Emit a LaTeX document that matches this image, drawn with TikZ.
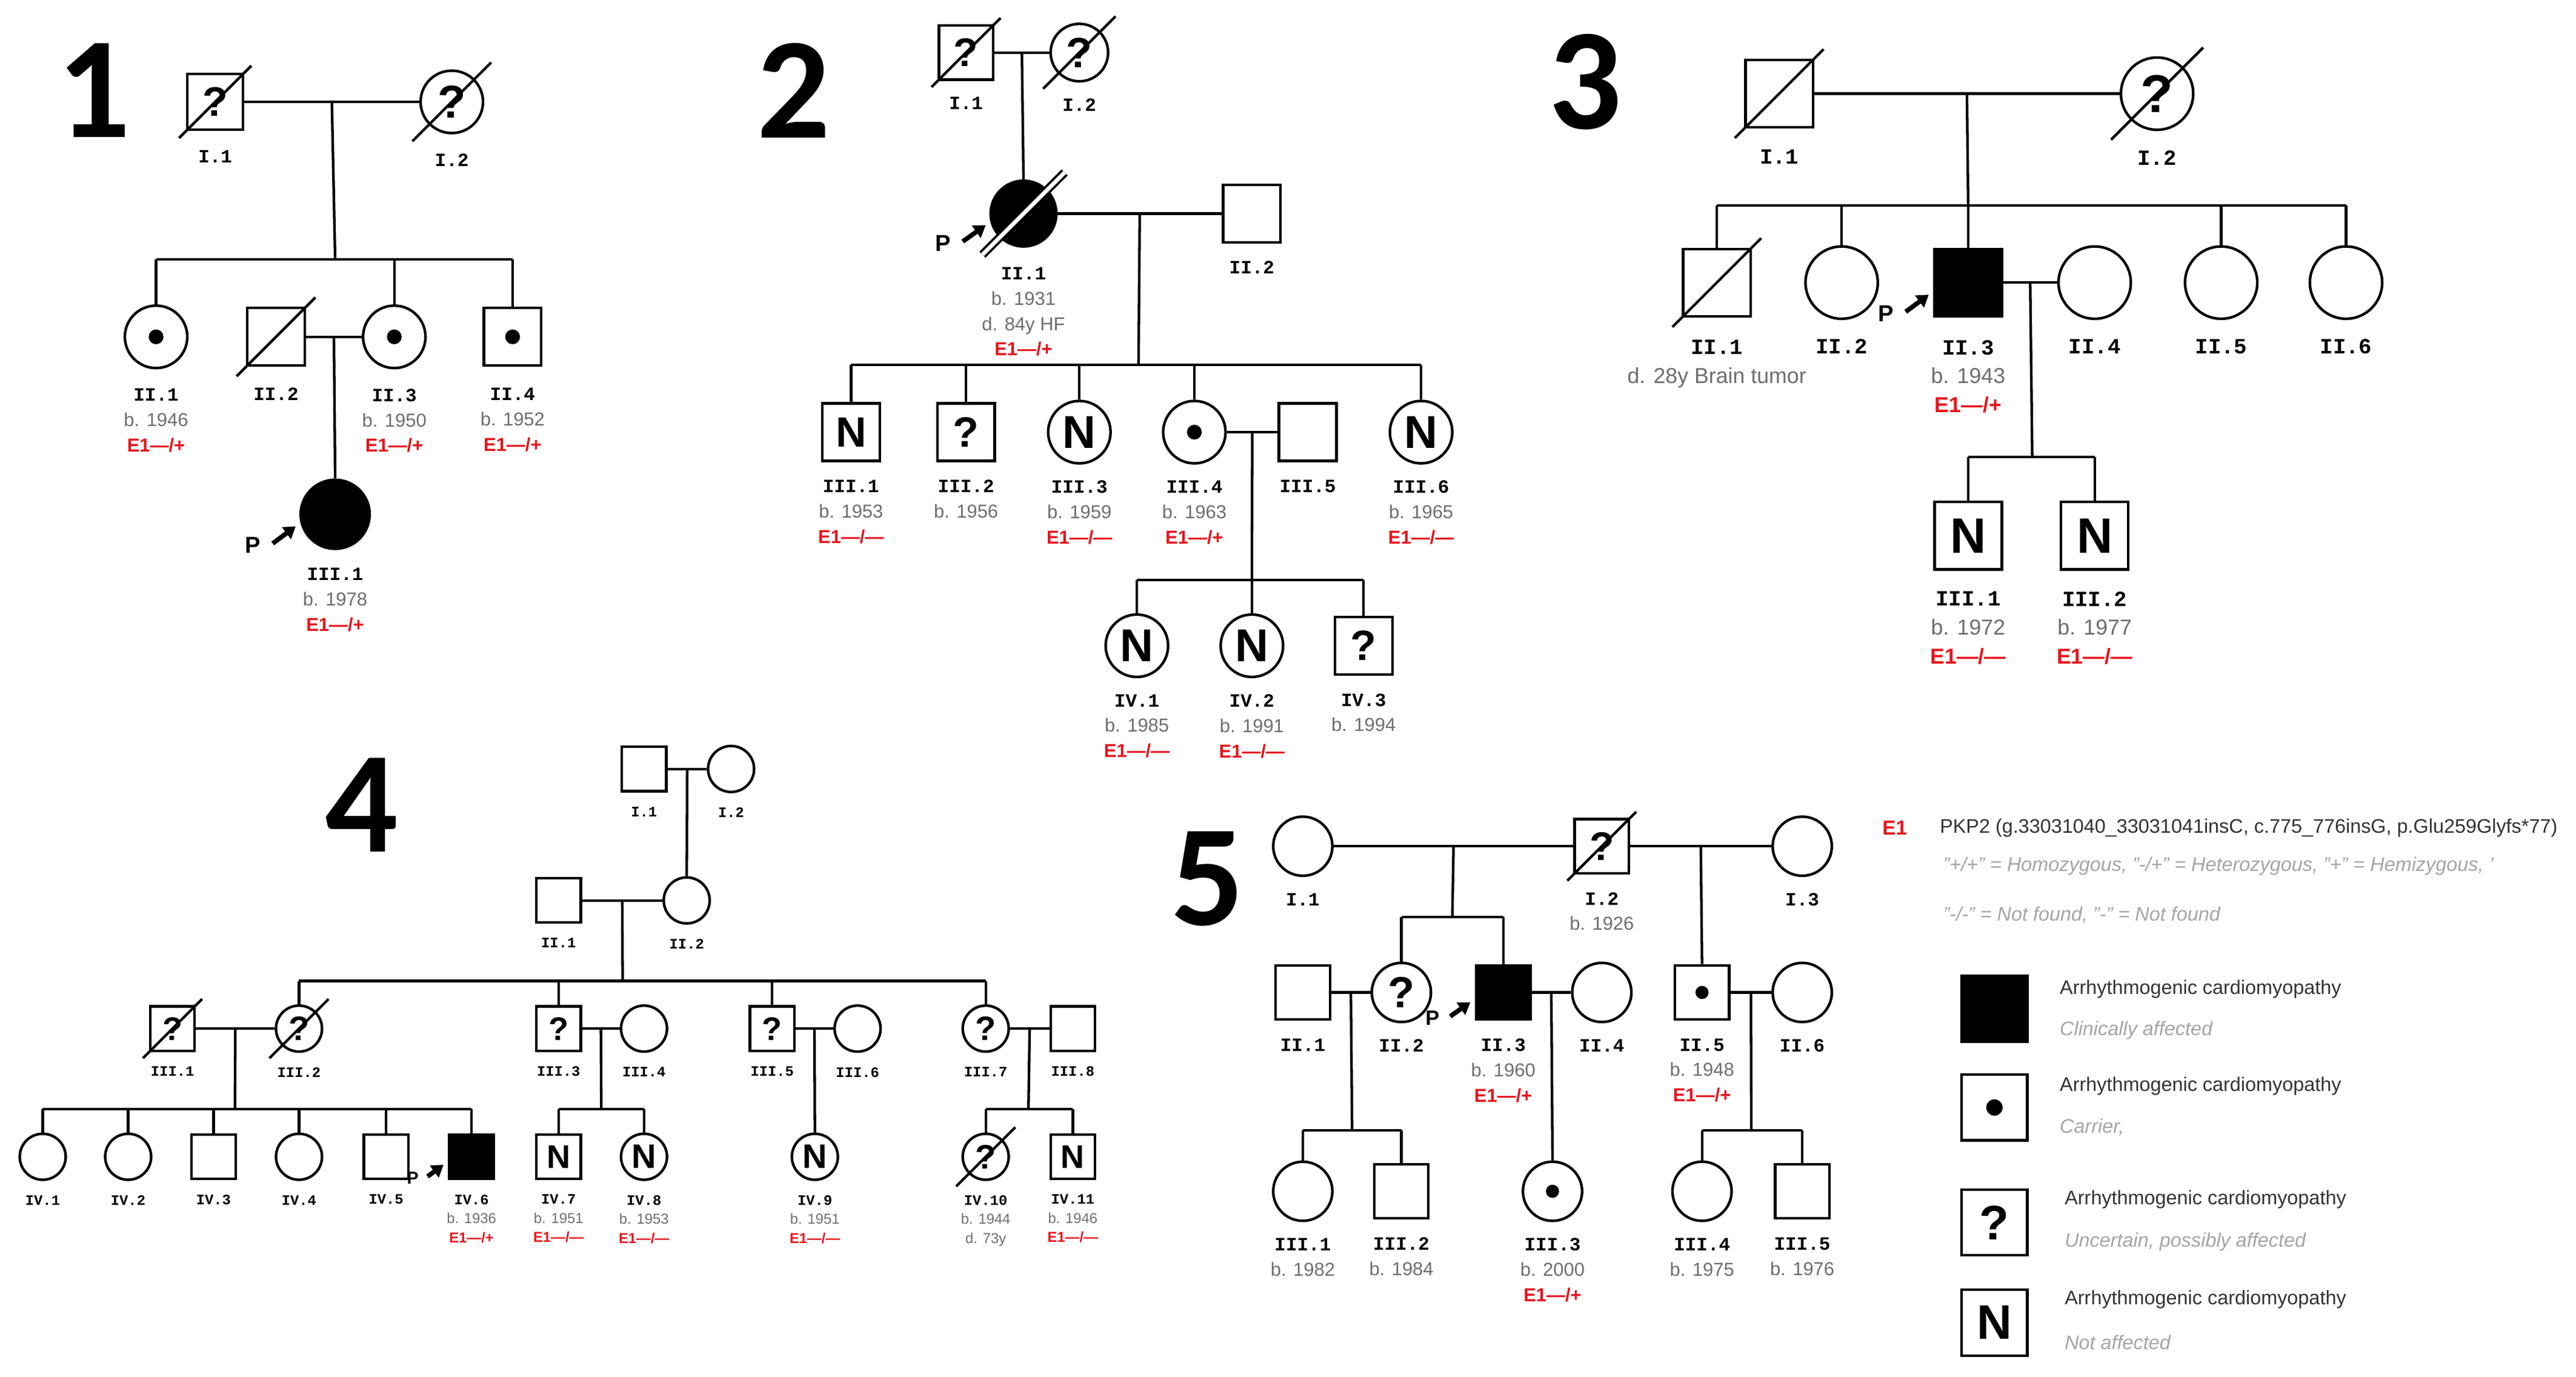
\documentclass[tikz,border=0pt]{standalone}
\usepackage{fontspec}
\setmainfont{Liberation Sans}
\newfontfamily\labf{Liberation Mono}
\newfontfamily\bigf{Carlito}
\usetikzlibrary{calc,arrows.meta}
\definecolor{rd}{HTML}{E8141B}
\definecolor{gy}{HTML}{6E6E6E}
\definecolor{lg}{HTML}{A5A5A5}
\newcommand\ID[1]{{\labf\bfseries #1}}
\newcommand\B[1]{{\color{gy}#1}}
\newcommand\E[1]{{\color{rd}\bfseries E1#1}}
\newcommand\M[6]{\node[m,minimum size=#4*0.02cm,qf=#4,#5] (#1) at (#2,#3) {#6};}
\newcommand\F[6]{\node[f,minimum size=#4*0.02cm,qf=#4,#5] (#1) at (#2,#3) {#6};}
\newcommand\Dot[2]{\fill (#1) circle (#2);}
\newcommand\Dec[2]{\draw[line width=0.9pt] ($(#1)+(-#2,#2)$) -- ($(#1)+(#2,-#2)$);}
\newcommand\Lab[4]{\node[#3] (#1L) at ($(#1.south)+(0,#2)$) {#4};}
% proband arrow: node, radius, scale
\newcommand\Prob[3]{%
  \draw[parrow] ($(#1)+(-#2-17*#3,#2*0.75+2*#3)$) -- ($(#1)+(-#2-3,#2*0.35)$);
  \node[pf=#3,inner sep=0] (#1P) at ($(#1)+(-#2-29*#3,#2*0.7+4*#3)$) {P};}
\begin{document}
\begin{tikzpicture}[x=0.02cm,y=-0.02cm,
  ind/.style={draw,line width=0.9pt,inner sep=0,fill=white,text=black},
  m/.style={ind,rectangle},
  f/.style={ind,circle},
  aff/.style={fill=black},
  qf/.code={\pgfmathsetmacro\qs{#1*0.42}\edef\qq{\noexpand\bfseries\noexpand\fontsize{\qs}{\qs}\noexpand\selectfont}\tikzset{font/.expand once=\qq}},
  pf/.code={\pgfmathsetmacro\qs{#1*8}\edef\qq{\noexpand\bfseries\noexpand\fontsize{\qs}{\qs}\noexpand\selectfont}\tikzset{font/.expand once=\qq}},
  parrow/.style={line width=1.6pt,-{Triangle[width=5pt,length=4pt]}},
  every path/.style={line width=0.9pt},
  lab/.style={anchor=north,align=center,inner sep=0,font=\fontsize{6.5}{8.8}\selectfont},
  labL/.style={anchor=north,align=center,inner sep=0,font=\fontsize{7.5}{10}\selectfont},
  labS/.style={anchor=north,align=center,inner sep=0,font=\fontsize{5}{6.6}\selectfont},
  big/.style={font=\bigf\bfseries\fontsize{50}{52}\selectfont,inner sep=0},
  leg/.style={anchor=west,inner sep=0,font=\fontsize{6.8}{8}\selectfont},
  legi/.style={anchor=west,inner sep=0,font=\itshape\fontsize{6.8}{8}\selectfont,text=lg}]
\useasboundingbox (0,0) rectangle (1568,838);
%%%%%%%%%%%% 1
\node[big] (n1) at (57,55) {1};
\M{a11}{131}{62}{34}{}{?} \Dec{a11}{22}
\F{a12}{275}{62}{38}{}{?} \Dec{a12}{24}
\draw (a11.east) -- (a12.west);
\coordinate (a1s) at (204,158);
\draw ($(a11.east)!0.5!(a12.west)$) -- (a1s);
\F{a21}{95}{205}{38}{}{} \Dot{a21}{0.09cm}
\M{a22}{168}{205}{35}{}{} \Dec{a22}{24}
\F{a23}{240}{205}{38}{}{} \Dot{a23}{0.09cm}
\M{a24}{312}{205}{35}{}{} \Dot{a24}{0.09cm}
\draw (a21.north|-a1s) -- (a24.north|-a1s);
\foreach \n in {a21,a23,a24} \draw (\n.north) -- (\n.north|-a1s);
\draw (a22.east) -- (a23.west);
\F{a31}{204}{313}{42}{aff}{}
\draw ($(a22.east)!0.5!(a23.west)$) -- (a31.north);
\Prob{a31}{21}{1}
\Lab{a11}{11}{lab}{\ID{I.1}}
\Lab{a12}{11}{lab}{\ID{I.2}}
\Lab{a21}{11}{lab}{\ID{II.1}\\\B{b. 1946}\\\E{—/+}}
\Lab{a22}{12}{lab}{\ID{II.2}}
\Lab{a23}{11}{lab}{\ID{II.3}\\\B{b. 1950}\\\E{—/+}}
\Lab{a24}{12}{lab}{\ID{II.4}\\\B{b. 1952}\\\E{—/+}}
\Lab{a31}{10}{lab}{\ID{III.1}\\\B{b. 1978}\\\E{—/+}}
%%%%%%%%%%%% 2
\node[big] (n2) at (483,55) {2};
\M{b11}{588}{32}{33}{}{?} \Dec{b11}{21}
\F{b12}{657}{32}{35}{}{?} \Dec{b12}{22}
\draw (b11.east) -- (b12.west);
\F{b21}{623}{130}{40}{aff}{}
\draw ($(b11.east)!0.5!(b12.west)$) -- (b21.north);
\draw[double=white,double distance=1.4pt,line width=0.8pt] ($(b21)+(-25,25)$) -- ($(b21)+(25,-25)$);
\M{b22}{762}{130}{35}{}{}
\draw (b21.east) -- (b22.west);
\Prob{b21}{20}{1}
\coordinate (b2s) at (693,222);
\draw ($(b21.east)!0.5!(b22.west)$) -- (b2s);
\M{b31}{518}{263}{35}{}{N}
\M{b32}{588}{263}{35}{}{?}
\F{b33}{657}{263}{38}{}{N}
\F{b34}{727}{263}{38}{}{} \Dot{b34}{0.09cm}
\M{b35}{796}{263}{35}{}{}
\F{b36}{865}{263}{38}{}{N}
\draw (b31.north|-b2s) -- (b36.north|-b2s);
\foreach \n in {b31,b32,b33,b34,b36} \draw (\n.north) -- (\n.north|-b2s);
\draw (b34.east) -- (b35.west);
\coordinate (b3s) at (762,353);
\draw ($(b34.east)!0.5!(b35.west)$) -- (b3s);
\F{b41}{692}{393}{38}{}{N}
\F{b42}{762}{393}{38}{}{N}
\M{b43}{830}{393}{35}{}{?}
\draw (b41.north|-b3s) -- (b43.north|-b3s);
\foreach \n in {b41,b42,b43} \draw (\n.north) -- (\n.north|-b3s);
\Lab{b11}{9}{lab}{\ID{I.1}}
\Lab{b12}{9}{lab}{\ID{I.2}}
\Lab{b21}{11}{lab}{\ID{II.1}\\\B{b. 1931}\\\B{d. 84y HF}\\\E{—/+}}
\Lab{b22}{10}{lab}{\ID{II.2}}
\Lab{b31}{10}{lab}{\ID{III.1}\\\B{b. 1953}\\\E{—/—}}
\Lab{b32}{10}{lab}{\ID{III.2}\\\B{b. 1956}}
\Lab{b33}{9}{lab}{\ID{III.3}\\\B{b. 1959}\\\E{—/—}}
\Lab{b34}{9}{lab}{\ID{III.4}\\\B{b. 1963}\\\E{—/+}}
\Lab{b35}{10}{lab}{\ID{III.5}}
\Lab{b36}{9}{lab}{\ID{III.6}\\\B{b. 1965}\\\E{—/—}}
\Lab{b41}{9}{lab}{\ID{IV.1}\\\B{b. 1985}\\\E{—/—}}
\Lab{b42}{9}{lab}{\ID{IV.2}\\\B{b. 1991}\\\E{—/—}}
\Lab{b43}{10}{lab}{\ID{IV.3}\\\B{b. 1994}}
%%%%%%%%%%%% 3
\node[big] (n3) at (965,50) {3};
\M{c11}{1083}{57}{41}{}{} \Dec{c11}{27}
\F{c12}{1313}{57}{44}{}{?} \Dec{c12}{28}
\draw (c11.east) -- (c12.west);
\coordinate (c1s) at (1198,125);
\draw ($(c11.east)!0.5!(c12.west)$) -- (c1s);
\M{c21}{1045}{172}{41}{}{} \Dec{c21}{27}
\F{c22}{1121}{172}{44}{}{}
\M{c23}{1198}{172}{41}{aff}{}
\F{c24}{1275}{172}{44}{}{}
\F{c25}{1352}{172}{44}{}{}
\F{c26}{1428}{172}{44}{}{}
\draw (c21.north|-c1s) -- (c26.north|-c1s);
\foreach \n in {c21,c22,c23,c25,c26} \draw (\n.north) -- (\n.north|-c1s);
\draw (c23.east) -- (c24.west);
\Prob{c23}{21}{1}
\coordinate (c2s) at (1237,278);
\draw ($(c23.east)!0.5!(c24.west)$) -- (c2s);
\M{c31}{1198}{326}{41}{}{N}
\M{c32}{1275}{326}{41}{}{N}
\draw (c31.north|-c2s) -- (c32.north|-c2s);
\foreach \n in {c31,c32} \draw (\n.north) -- (\n.north|-c2s);
\Lab{c11}{12}{labL}{\ID{I.1}}
\Lab{c12}{11}{labL}{\ID{I.2}}
\Lab{c21}{13}{labL}{\ID{II.1}\\\B{d. 28y Brain tumor}}
\Lab{c22}{11}{labL}{\ID{II.2}}
\Lab{c23}{13}{labL}{\ID{II.3}\\\B{b. 1943}\\\E{—/+}}
\Lab{c24}{11}{labL}{\ID{II.4}}
\Lab{c25}{11}{labL}{\ID{II.5}}
\Lab{c26}{11}{labL}{\ID{II.6}}
\Lab{c31}{12}{labL}{\ID{III.1}\\\B{b. 1972}\\\E{—/—}}
\Lab{c32}{12}{labL}{\ID{III.2}\\\B{b. 1977}\\\E{—/—}}
%%%%%%%%%%%% 4
\node[big] (n4) at (220,490) {4};
\M{d11}{392}{468}{27}{}{}
\F{d12}{445}{468}{28}{}{}
\draw (d11.east) -- (d12.west);
\F{d22}{418}{548}{28}{}{}
\M{d21}{340}{548}{27}{}{}
\draw ($(d11.east)!0.5!(d12.west)$) -- (d22.north);
\draw (d21.east) -- (d22.west);
\coordinate (d2s) at (379,597);
\draw ($(d21.east)!0.5!(d22.west)$) -- (d2s);
\M{d31}{105}{626}{27}{}{?} \Dec{d31}{18}
\F{d32}{182}{626}{28}{}{?} \Dec{d32}{18}
\M{d33}{340}{626}{27}{}{?}
\F{d34}{392}{626}{28}{}{}
\M{d35}{470}{626}{27}{}{?}
\F{d36}{522}{626}{28}{}{}
\F{d37}{600}{626}{28}{}{?}
\M{d38}{653}{626}{27}{}{}
\draw (d32.north|-d2s) -- (d37.north|-d2s);
\foreach \n in {d32,d33,d35,d37} \draw (\n.north) -- (\n.north|-d2s);
\draw (d31.east) -- (d32.west);
\draw (d33.east) -- (d34.west);
\draw (d35.east) -- (d36.west);
\draw (d37.east) -- (d38.west);
\F{d41}{26}{704}{28}{}{}
\F{d42}{78}{704}{28}{}{}
\M{d43}{130}{704}{27}{}{}
\F{d44}{182}{704}{28}{}{}
\M{d45}{235}{704}{27}{}{}
\M{d46}{287}{704}{27}{aff}{}
\M{d47}{340}{704}{27}{}{N}
\F{d48}{392}{704}{28}{}{N}
\F{d49}{496}{704}{28}{}{N}
\F{d410}{600}{704}{28}{}{?} \Dec{d410}{18}
\M{d411}{653}{704}{27}{}{N}
\coordinate (d3a) at (143,675);
\draw ($(d31.east)!0.5!(d32.west)$) -- (d3a);
\draw (d41.north|-d3a) -- (d46.north|-d3a);
\foreach \n in {d41,d42,d43,d44,d45,d46} \draw (\n.north) -- (\n.north|-d3a);
\coordinate (d3b) at (366,675);
\draw ($(d33.east)!0.5!(d34.west)$) -- (d3b);
\draw (d47.north|-d3b) -- (d48.north|-d3b);
\foreach \n in {d47,d48} \draw (\n.north) -- (\n.north|-d3b);
\draw ($(d35.east)!0.5!(d36.west)$) -- (d49.north);
\coordinate (d3d) at (626,675);
\draw ($(d37.east)!0.5!(d38.west)$) -- (d3d);
\draw (d410.north|-d3d) -- (d411.north|-d3d);
\foreach \n in {d410,d411} \draw (\n.north) -- (\n.north|-d3d);
\Prob{d46}{14}{0.75}
\Lab{d11}{8}{labS}{\ID{I.1}}
\Lab{d12}{8}{labS}{\ID{I.2}}
\Lab{d21}{8}{labS}{\ID{II.1}}
\Lab{d22}{8}{labS}{\ID{II.2}}
\Lab{d31}{8}{labS}{\ID{III.1}}
\Lab{d32}{8}{labS}{\ID{III.2}}
\Lab{d33}{8}{labS}{\ID{III.3}}
\Lab{d34}{8}{labS}{\ID{III.4}}
\Lab{d35}{8}{labS}{\ID{III.5}}
\Lab{d36}{8}{labS}{\ID{III.6}}
\Lab{d37}{8}{labS}{\ID{III.7}}
\Lab{d38}{8}{labS}{\ID{III.8}}
\Lab{d41}{8}{labS}{\ID{IV.1}}
\Lab{d42}{8}{labS}{\ID{IV.2}}
\Lab{d43}{8}{labS}{\ID{IV.3}}
\Lab{d44}{8}{labS}{\ID{IV.4}}
\Lab{d45}{8}{labS}{\ID{IV.5}}
\Lab{d46}{8}{labS}{\ID{IV.6}\\\B{b. 1936}\\\E{—/+}}
\Lab{d47}{8}{labS}{\ID{IV.7}\\\B{b. 1951}\\\E{—/—}}
\Lab{d48}{8}{labS}{\ID{IV.8}\\\B{b. 1953}\\\E{—/—}}
\Lab{d49}{8}{labS}{\ID{IV.9}\\\B{b. 1951}\\\E{—/—}}
\Lab{d410}{8}{labS}{\ID{IV.10}\\\B{b. 1944}\\\B{d. 73y}}
\Lab{d411}{8}{labS}{\ID{IV.11}\\\B{b. 1946}\\\E{—/—}}
%%%%%%%%%%%% 5
\node[big] (n5) at (735,535) {5};
\F{e11}{793}{515}{36}{}{}
\M{e12}{975}{515}{33}{}{?} \Dec{e12}{21}
\F{e13}{1097}{515}{36}{}{}
\draw (e11.east) -- (e12.west);
\draw (e12.east) -- (e13.west);
\M{e21}{793}{604}{33}{}{}
\F{e22}{853}{604}{36}{}{?}
\M{e23}{915}{604}{33}{aff}{}
\F{e24}{975}{604}{36}{}{}
\M{e25}{1036}{604}{33}{}{} \Dot{e25}{0.08cm}
\F{e26}{1097}{604}{36}{}{}
\coordinate (e1s) at (884,558);
\draw ($(e11.east)!0.5!(e12.west)$) -- (e1s);
\draw (e22.north|-e1s) -- (e23.north|-e1s);
\foreach \n in {e22,e23} \draw (\n.north) -- (\n.north|-e1s);
\draw ($(e12.east)!0.5!(e13.west)$) -- (e25.north);
\draw (e21.east) -- (e22.west);
\draw (e23.east) -- (e24.west);
\draw (e25.east) -- (e26.west);
\Prob{e23}{17}{0.9}
\F{e31}{793}{725}{36}{}{}
\M{e32}{853}{725}{33}{}{}
\F{e33}{945}{725}{36}{}{} \Dot{e33}{0.08cm}
\F{e34}{1036}{725}{36}{}{}
\M{e35}{1097}{725}{33}{}{}
\coordinate (e2a) at (823,688);
\draw ($(e21.east)!0.5!(e22.west)$) -- (e2a);
\draw (e31.north|-e2a) -- (e32.north|-e2a);
\foreach \n in {e31,e32} \draw (\n.north) -- (\n.north|-e2a);
\draw ($(e23.east)!0.5!(e24.west)$) -- (e33.north);
\coordinate (e2c) at (1066,688);
\draw ($(e25.east)!0.5!(e26.west)$) -- (e2c);
\draw (e34.north|-e2c) -- (e35.north|-e2c);
\foreach \n in {e34,e35} \draw (\n.north) -- (\n.north|-e2c);
\Lab{e11}{9}{lab}{\ID{I.1}}
\Lab{e12}{10}{lab}{\ID{I.2}\\\B{b. 1926}}
\Lab{e13}{9}{lab}{\ID{I.3}}
\Lab{e21}{10}{lab}{\ID{II.1}}
\Lab{e22}{9}{lab}{\ID{II.2}}
\Lab{e23}{10}{lab}{\ID{II.3}\\\B{b. 1960}\\\E{—/+}}
\Lab{e24}{9}{lab}{\ID{II.4}}
\Lab{e25}{10}{lab}{\ID{II.5}\\\B{b. 1948}\\\E{—/+}}
\Lab{e26}{9}{lab}{\ID{II.6}}
\Lab{e31}{9}{lab}{\ID{III.1}\\\B{b. 1982}}
\Lab{e32}{10}{lab}{\ID{III.2}\\\B{b. 1984}}
\Lab{e33}{9}{lab}{\ID{III.3}\\\B{b. 2000}\\\E{—/+}}
\Lab{e34}{9}{lab}{\ID{III.4}\\\B{b. 1975}}
\Lab{e35}{10}{lab}{\ID{III.5}\\\B{b. 1976}}
%%%%%%%%%%%% legend
\node[leg,text=rd,font=\bfseries\fontsize{7}{8}\selectfont] (lE) at (1145,504) {E1};
\node[leg,text=black!80] (lP) at (1180,504) {PKP2 (g.33031040\_33031041insC, c.775\_776insG, p.Glu259Glyfs*77)};
\node[legi] (lH) at (1182,527) {"+/+" = Homozygous, "-/+" = Heterozygous, "+" = Hemizygous, '};
\node[legi] (lN) at (1182,557) {"-/-" = Not found, "-" = Not found};
\M{g1}{1214}{614}{40}{aff}{}
\M{g2}{1214}{674}{40}{}{} \Dot{g2}{0.1cm}
\M{g3}{1214}{744}{40}{}{?}
\M{g4}{1214}{805}{40}{}{N}
\node[leg,text=black!80] (t1) at (1253,602) {Arrhythmogenic cardiomyopathy};
\node[legi] (s1) at (1253,627) {Clinically affected};
\node[leg,text=black!80] (t2) at (1253,661) {Arrhythmogenic cardiomyopathy};
\node[legi] (s2) at (1253,686) {Carrier,};
\node[leg,text=black!80] (t3) at (1256,730) {Arrhythmogenic cardiomyopathy};
\node[legi] (s3) at (1256,756) {Uncertain, possibly affected};
\node[leg,text=black!80] (t4) at (1256,791) {Arrhythmogenic cardiomyopathy};
\node[legi] (s4) at (1256,817) {Not affected};
\end{tikzpicture}
\end{document}
